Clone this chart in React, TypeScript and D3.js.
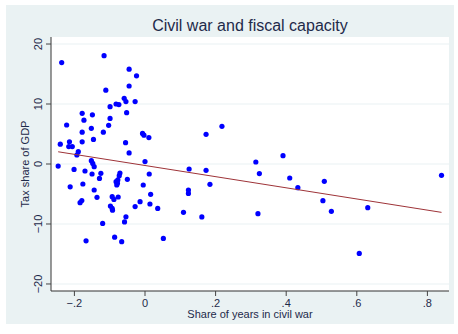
import React from "react";
import * as d3 from "d3";

// Share of years in civil war (x) and tax share of GDP (y), one entry per country
const warShare: number[] = [
  -0.236, -0.116, -0.111, -0.059, -0.054, -0.082, -0.074, -0.099, -0.178, -0.149,
  -0.099, -0.173, -0.222, -0.103, -0.152, -0.178, -0.118, -0.146, -0.178, -0.214,
  -0.240, -0.216, -0.206, -0.055, -0.189, -0.193, -0.152, -0.148, -0.144, -0.246,
  -0.045, -0.024, -0.045, -0.028, -0.052, -0.007, -0.003, 0.011, -0.045, 0.0,
  -0.201, -0.170, -0.150, -0.125, -0.129, -0.071, -0.073, -0.077, -0.082, -0.078,
  -0.080, -0.212, -0.176, -0.144, -0.136, -0.093, -0.076, -0.088, -0.179, -0.184,
  -0.098, -0.093, -0.092, -0.120, -0.058, -0.054, -0.167, -0.086, -0.066, 0.125,
  -0.050, 0.012, -0.005, 0.016, -0.014, -0.028, 0.014, 0.036, 0.123, 0.123,
  0.109, 0.052, 0.173, 0.218, 0.173, 0.184, 0.161, 0.314, 0.324, 0.320,
  0.391, 0.410, 0.433, 0.508, 0.504, 0.528, 0.607, 0.631, 0.840,
];

const taxShare: number[] = [
  16.9, 18.05, 12.3, 10.95, 10.4, 10.0, 9.9, 9.55, 8.45, 8.2,
  7.6, 7.3, 6.5, 6.45, 5.95, 5.3, 5.3, 4.1, 3.7, 3.7,
  3.3, 2.9, 2.9, 3.55, 2.05, 1.5, 0.55, 0.1, -0.45, -0.35,
  15.8, 14.7, 13.0, 10.4, 8.55, 5.1, 4.8, 4.4, 1.85, 0.4,
  -0.9, -1.17, -1.67, -1.55, -2.4, -1.5, -1.95, -2.65, -2.95, -3.2,
  -3.5, -3.8, -3.33, -4.33, -5.55, -5.45, -5.5, -5.9, -6.1, -6.45,
  -7.0, -7.4, -7.7, -9.9, -9.65, -8.8, -12.8, -12.2, -12.95, -0.83,
  -2.55, -1.67, -3.5, -5.05, -6.28, -7.1, -6.67, -7.4, -4.33, -4.9,
  -8.05, -12.4, 4.95, 6.28, -1.05, -3.39, -8.83, 0.33, -1.6, -8.28,
  1.39, -2.33, -3.94, -2.89, -6.11, -7.89, -14.9, -7.28, -1.89,
];

// Linear fit of tax share on share of years in civil war
const fitIntercept = -0.25;
const fitSlope = -9.3;

const xTicks: number[] = [-0.2, 0, 0.2, 0.4, 0.6, 0.8];
const xTickLabels: string[] = ["\u2212.2", "0", ".2", ".4", ".6", ".8"];
const yTicks: number[] = [-20, -10, 0, 10, 20];
const yTickLabels: string[] = ["\u221220", "\u221210", "0", "10", "20"];

const W = 458;
const H = 334;
const plot = { left: 51, right: 449, top: 37, bottom: 291 };
const FONT = "'Liberation Sans', Arial, Helvetica, sans-serif";
const TEXT = "#1e2a4a";

export default function App() {
  const x = d3.scaleLinear().domain([-0.2663, 0.8612]).range([plot.left, plot.right]);
  const y = d3.scaleLinear().domain([-21.17, 21.17]).range([plot.bottom, plot.top]);

  const points = warShare.map((v, i) => ({ x: v, y: taxShare[i] }));
  const xExt = d3.extent(warShare) as [number, number];
  const fitLine = d3
    .line<number>()
    .x((d) => x(d))
    .y((d) => y(fitIntercept + fitSlope * d));

  return (
    <svg
      width={W}
      height={H}
      style={{ position: "absolute", left: 0, top: 0, display: "block" }}
      fontFamily={FONT}
    >
      <rect x={0} y={0} width={W} height={H} fill="#ffffff" />
      <rect x={6} y={5} width={448} height={319} fill="#eaf2f3" />
      <rect
        x={plot.left}
        y={plot.top}
        width={plot.right - plot.left}
        height={plot.bottom - plot.top}
        fill="#ffffff"
      />

      {/* horizontal grid */}
      {yTicks.map((t) => (
        <line
          key={"g" + t}
          x1={plot.left}
          x2={plot.right}
          y1={y(t)}
          y2={y(t)}
          stroke="#eaf2f3"
          strokeWidth={1.2}
        />
      ))}

      {/* points */}
      {points.map((p, i) => (
        <circle key={i} cx={x(p.x)} cy={y(p.y)} r={2.6} fill="#0000ff" />
      ))}

      {/* fitted line */}
      <path d={fitLine(xExt) || ""} fill="none" stroke="#9e3338" strokeWidth={1} />

      {/* axes */}
      <line x1={plot.left} x2={plot.left} y1={plot.top} y2={plot.bottom} stroke="#555" strokeWidth={1.2} />
      <line x1={plot.left} x2={plot.right} y1={plot.bottom} y2={plot.bottom} stroke="#333" strokeWidth={1.2} />

      {yTicks.map((t, i) => (
        <g key={"y" + t}>
          <line x1={plot.left - 5} x2={plot.left} y1={y(t)} y2={y(t)} stroke="#444" strokeWidth={1} />
          <text
            transform={`translate(${plot.left - 9},${y(t)}) rotate(-90)`}
            textAnchor="middle"
            fontSize={11}
            fill={TEXT}
          >
            {yTickLabels[i]}
          </text>
        </g>
      ))}

      {xTicks.map((t, i) => (
        <g key={"x" + t}>
          <line x1={x(t)} x2={x(t)} y1={plot.bottom} y2={plot.bottom + 5} stroke="#444" strokeWidth={1} />
          <text x={x(t)} y={plot.bottom + 16} textAnchor="middle" fontSize={11} fill={TEXT}>
            {xTickLabels[i]}
          </text>
        </g>
      ))}

      <text x={(plot.left + plot.right) / 2} y={318} textAnchor="middle" fontSize={11} fill={TEXT}>
        Share of years in civil war
      </text>
      <text
        transform={`translate(29,${y(0)}) rotate(-90)`}
        textAnchor="middle"
        fontSize={11}
        fill={TEXT}
      >
        Tax share of GDP
      </text>
      <text x={(plot.left + plot.right) / 2} y={31} textAnchor="middle" fontSize={16} fill={TEXT}>
        Civil war and fiscal capacity
      </text>
    </svg>
  );
}
